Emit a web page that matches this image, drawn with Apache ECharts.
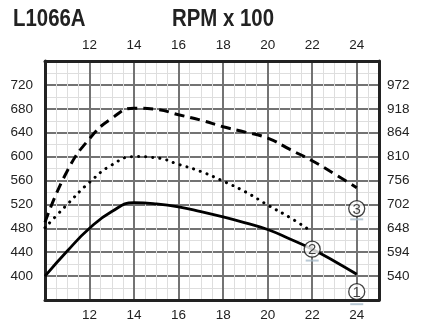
<!DOCTYPE html>
<html>
<head>
<meta charset="utf-8">
<script src="https://cdn.jsdelivr.net/npm/echarts@6/dist/echarts.min.js"></script>
<style>html,body{margin:0;padding:0;background:#fff}#c{width:441px;height:331px}</style>
</head>
<body>
<div id="c"></div>
<script>
// Data (x = RPM x 100, y = left-axis units)
const curve1 = [[10,400],[11,442],[12,480],[13,508],[14,523],[15,521],[16,516],[17,508],[18,499],[19,489],[20,478],[21,462],[22,445],[23,425],[24,403]];
const curve2 = [[10,481],[11,520],[12,557],[13,586],[14,600],[15,598],[16,587],[17,575],[18,559],[19,541],[20,519],[21,498],[21.8,479]];
const curve3 = [[10,490],[11,576],[12,630],[13,664],[14,681],[15,679],[16,670],[17,661],[18,650],[19,641],[20,631],[21,612],[22,593],[23,571],[24,548]];
const badgeLabels = ['1','2','3'];
const badgePos = [[24,374],[22,445],[24,513]];
const underlinePos = [[24,353],[22,426],[24,495]];
const xTicks = [12,14,16,18,20,22,24];
const leftTicks = [400,440,480,520,560,600,640,680,720];
const rightTicks = [540,594,648,702,756,810,864,918,972];
const titleText = 'L1066A';
const axisTitle = 'RPM x 100';

const FONT = "'Liberation Sans',Arial,sans-serif";
const chart = echarts.init(document.getElementById('c'), null, {renderer:'canvas'});
const lblStyle = {fontFamily: FONT, fontSize: 13.5, color: '#222'};
const xFmt = v => xTicks.indexOf(v) >= 0 ? String(v) : '';
const frame = {show: true, lineStyle: {color: '#222', width: 3}};

chart.setOption({
  animation: false,
  backgroundColor: '#fff',
  graphic: [
    {type: 'text', x: 13, y: 7, scaleX: 0.85, style: {text: titleText, font: "bold 24px " + FONT, fill: '#222'}},
    {type: 'text', x: 172, y: 7, scaleX: 0.85, style: {text: axisTitle, font: "bold 24px " + FONT, fill: '#222'}}
  ],
  grid: {left: 45, right: 62, top: 61, bottom: 31, containLabel: false},
  xAxis: [
    {type: 'value', position: 'bottom', min: 10, max: 25, interval: 0.5,
     axisLine: frame, axisTick: {show: false},
     axisLabel: Object.assign({margin: 8, formatter: xFmt, showMinLabel: false, showMaxLabel: false}, lblStyle),
     splitLine: {show: true, lineStyle: {color: '#dedede', width: 1}}},
    {type: 'value', position: 'top', min: 10, max: 25, interval: 2,
     axisLine: frame, axisTick: {show: false},
     axisLabel: Object.assign({margin: 9, formatter: xFmt, showMinLabel: false, showMaxLabel: false}, lblStyle),
     splitLine: {show: true, lineStyle: {color: '#737373', width: 2}}}
  ],
  yAxis: [
    {type: 'value', position: 'left', min: 360, max: 760, interval: 40,
     axisLine: frame, axisTick: {show: false},
     axisLabel: Object.assign({margin: 12, formatter: v => leftTicks.indexOf(v) >= 0 ? String(v) : ''}, lblStyle),
     splitLine: {show: true, lineStyle: {color: '#737373', width: 2}},
     minorTick: {show: false, splitNumber: 2},
     minorSplitLine: {show: true, lineStyle: {color: '#dedede', width: 1}}},
    {type: 'value', position: 'right', min: 486, max: 1026, interval: 54,
     axisLine: frame, axisTick: {show: false},
     axisLabel: Object.assign({margin: 8, formatter: v => rightTicks.indexOf(v) >= 0 ? String(v) : ''}, lblStyle),
     splitLine: {show: false}}
  ],
  series: [
    {type: 'line', data: curve1, smooth: 0.5, symbol: 'none', z: 5,
     lineStyle: {color: '#000', width: 2.8}},
    {type: 'line', data: curve2, smooth: 0.5, symbol: 'none', z: 5,
     lineStyle: {color: '#000', width: 3, type: [0.1, 7], cap: 'round'}},
    {type: 'line', data: curve3, smooth: 0.5, symbol: 'none', z: 5,
     lineStyle: {color: '#000', width: 3, type: [10, 6]}},
    {type: 'scatter', data: underlinePos, symbol: 'rect', symbolSize: [13, 2], clip: false, z: 6,
     itemStyle: {color: '#a7bccb'}},
    {type: 'scatter', clip: false, z: 7,
     data: badgePos.map((p, i) => ({value: p, name: badgeLabels[i]})),
     symbol: 'circle', symbolSize: 16,
     itemStyle: {color: '#fff', borderColor: '#111', borderWidth: 1.3},
     label: {show: true, position: 'inside', formatter: p => p.name, fontFamily: FONT, fontSize: 15, color: '#111', offset: [0, 1]}}
  ]
});
</script>
</body>
</html>
